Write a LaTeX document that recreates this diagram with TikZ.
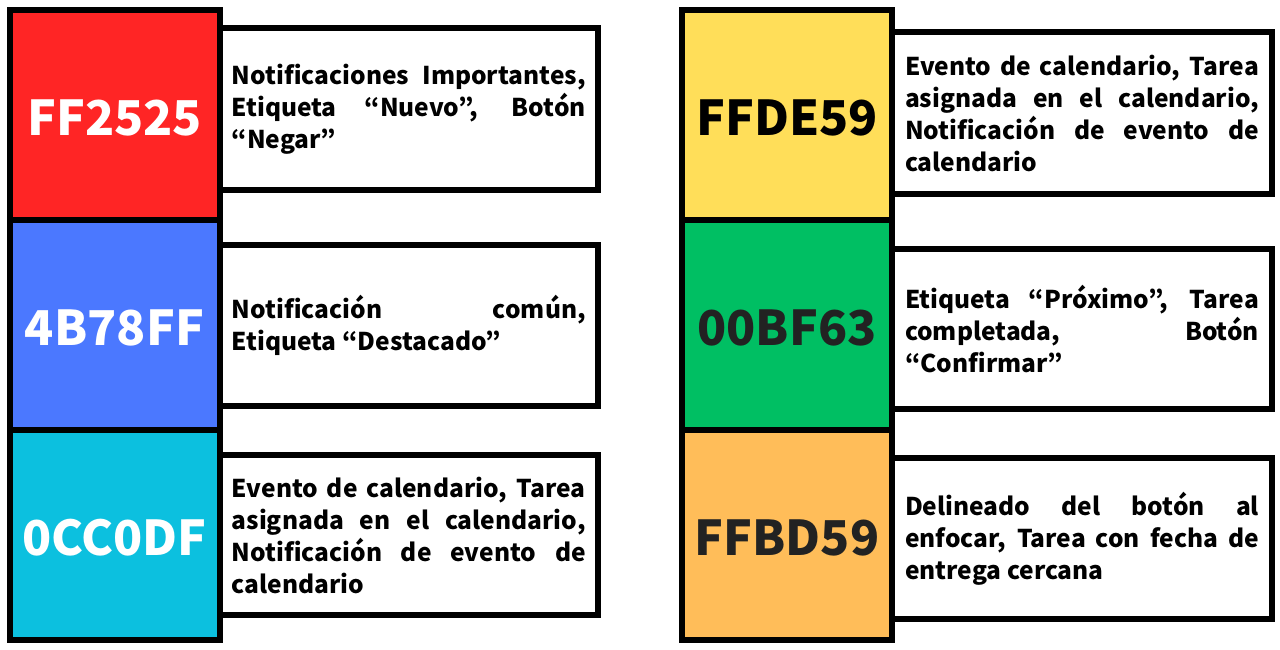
\documentclass[tikz,border=0pt]{standalone}
\usepackage{fontspec}
\setmainfont{Noto Sans CJK KR}
\newfontfamily\hexfont{Noto Sans CJK KR}
\usepackage{tikz}
\usetikzlibrary{positioning}
\definecolor{rojo}{HTML}{FF2525}
\definecolor{azul}{HTML}{4B78FF}
\definecolor{cian}{HTML}{0CC0DF}
\definecolor{amarillo}{HTML}{FFDE59}
\definecolor{verde}{HTML}{00BF63}
\definecolor{naranja}{HTML}{FFBD59}
\definecolor{oscuro}{HTML}{222222}

\begin{document}
\begin{tikzpicture}[x=1pt,y=-1pt,
	muestra/.style={draw,line width=6pt,minimum width=210pt,minimum height=210pt,inner sep=0pt,
		text height=41pt,text depth=0pt,
		font=\hexfont\bfseries\fontsize{48}{48}\selectfont},
	uso/.style={draw,fill=white,line width=6pt,minimum height=161pt,inner sep=0pt,
		text width=354pt,align=justify,
		font=\bfseries\fontsize{24.5}{32}\selectfont}]
		\useasboundingbox (0,0) rectangle (1280,650);
		%Colour squares
		\node[muestra,fill=rojo,text=white] (00) at (114.5,115) {FF2525};
		\node[muestra,fill=azul,text=white] (01) at (114.5,325) {4B78FF};
		\node[muestra,fill=cian,text=white] (02) at (114.5,535) {0CC0DF};
		\node[muestra,fill=amarillo,text=black] (20) at (787,115) {FFDE59};
		\node[muestra,fill=verde,text=oscuro] (21) at (787,325) {00BF63};
		\node[muestra,fill=naranja,text=oscuro] (22) at (787,535) {FFBD59};
		%Descriptions
		\node[uso,minimum width=378.5pt] (10) at (408.75,109)
			{Notificaciones Importantes,\linebreak Etiqueta “Nuevo”, Botón\linebreak “Negar”};
		\node[uso,minimum width=378.5pt] (11) at (408.75,325.5)
			{Notificación común,\linebreak Etiqueta “Destacado”};
		\node[uso,minimum width=378.5pt,minimum height=160pt] (12) at (408.75,535)
			{Evento de calendario, Tarea\linebreak asignada en el calendario,\linebreak Notificación de evento de\linebreak calendario};
		\node[uso,minimum width=380pt] (30) at (1082,113)
			{Evento de calendario, Tarea\linebreak asignada en el calendario,\linebreak Notificación de evento de\linebreak calendario};
		\node[uso,minimum width=380pt,minimum height=160pt] (31) at (1082,329)
			{Etiqueta “Próximo”, Tarea\linebreak completada, Botón\linebreak “Confirmar”};
		\node[uso,minimum width=380pt] (32) at (1082,538.5)
			{Delineado del botón al\linebreak enfocar, Tarea con fecha de\linebreak entrega cercana};
	\end{tikzpicture}
\end{document}
